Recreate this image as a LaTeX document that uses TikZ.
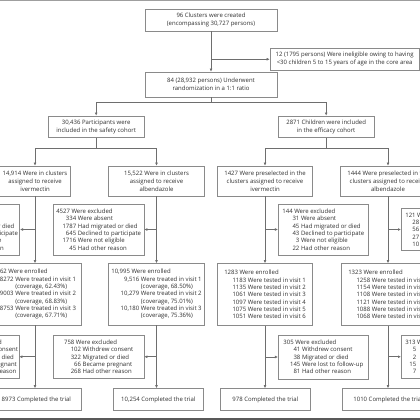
\documentclass[tikz,border=0pt]{standalone}
\usepackage{fontspec}
\setmainfont{Open Sans}
\usetikzlibrary{arrows.meta}
\definecolor{boxc}{HTML}{8A8A8A}
\definecolor{linec}{HTML}{6E6E6E}
\definecolor{txtc}{HTML}{303030}
\newcommand\numrow[3][20pt]{\makebox[#1][r]{#2}\hspace{1.6pt}#3}
\tikzset{
  bx/.style={draw=boxc, line width=0.7pt, text=txtc, inner ysep=0pt, inner xsep=2pt,
    font=\fontsize{6}{8.2}\selectfont, align=center},
  lbx/.style={bx, font=\fontsize{6}{7.3}\selectfont, align=left},
  conn/.style={draw=linec, line width=0.7pt},
  arr/.style={conn, -{Latex[length=3pt,width=2.8pt]}},
}
\begin{document}
\begin{tikzpicture}[x=1pt,y=-1pt]
\useasboundingbox (0,0) rectangle (420,420);
\fill[white] (0,0) rectangle (420,420);
\clip (0,0) rectangle (420,420);
\draw[line width=1.5pt, draw=gray!75] (0,0.75) -- (420,0.75);
\draw[line width=2pt, draw=black!65] (0,419) -- (420,419);

% top
\node[bx, minimum width=132pt, minimum height=22pt] (b1) at (211,20) {96 Clusters were created\\(encompassing 30,727 persons)};
\node[bx, minimum width=149.3pt, minimum height=22.5pt] (inel) at (344.65,59.25) {12 (1795 persons) Were ineligible owing to having\\<30 children 5 to 15 years of age in the core area};
\node[bx, minimum width=132pt, minimum height=25pt] (b2) at (211,84.5) {84 (28,932 persons) Underwent\\randomization in a 1:1 ratio};
\node[bx, minimum width=95.7pt, minimum height=21.5pt] (safety) at (96.15,126.75) {30,436 Participants were\\included in the safety cohort};
\node[bx, minimum width=95.7pt, minimum height=21.5pt] (eff) at (326.15,126.75) {2871 Children were included\\in the efficacy cohort};

% arms
\node[bx, minimum width=71pt, minimum height=30pt] (ivS) at (35,181) {14,914 Were in clusters\\assigned to receive\\ivermectin};
\node[bx, minimum width=96pt, minimum height=30pt] (albS) at (156.5,181) {15,522 Were in clusters\\assigned to receive\\albendazole};
\node[bx, minimum width=95pt, minimum height=30pt] (ivE) at (265,181) {1427 Were preselected in the\\clusters assigned to receive\\ivermectin};
\node[bx, minimum width=95pt, minimum height=30pt] (alE) at (388,181) {1444 Were preselected in the\\clusters assigned to receive\\albendazole};

% first exclusions
\node[lbx, anchor=east, inner xsep=1.7pt, minimum height=51pt] (exS1) at (20,229.5) {\phantom{0000} Were excluded\\ \numrow{\phantom{000}}{Were absent}\\ \numrow{}{Had migrated or died}\\ \numrow{}{Declined to participate}\\ \numrow{}{Were not eligible}\\ \numrow{}{Had other reason}};
\node[lbx, minimum width=90.7pt, minimum height=51pt] (exS2) at (98.65,229.5) {4527 Were excluded\\ \numrow{334}{Were absent}\\ \numrow{1787}{Had migrated or died}\\ \numrow{645}{Declined to participate}\\ \numrow{1716}{Were not eligible}\\ \numrow{45}{Had other reason}};
\node[lbx, minimum width=90pt, minimum height=51pt] (exE1) at (323.3,229.5) {144 Were excluded\\ \numrow[17pt]{31}{Were absent}\\ \numrow[17pt]{45}{Had migrated or died}\\ \numrow[17pt]{43}{Declined to participate}\\ \numrow[17pt]{3}{Were not eligible}\\ \numrow[17pt]{22}{Had other reason}};
\node[lbx, anchor=west, inner xsep=4pt, minimum height=42pt] (exE2) at (401,229.5) {121 Were excluded\\ \numrow[14pt]{28}{}\\ \numrow[14pt]{56}{}\\ \numrow[14pt]{27}{}\\ \numrow[14pt]{10}{}};

% enrolled
\node[lbx, anchor=east, inner xsep=5.4pt, minimum height=61.5pt] (enS1) at (81.7,294.25) {\phantom{00,0}62 Were enrolled\\ \numrow[25.4pt]{8272}{Were treated in visit 1}\\ \numrow[25.4pt]{}{(coverage, 62.43\%)}\\ \numrow[25.4pt]{9003}{Were treated in visit 2}\\ \numrow[25.4pt]{}{(coverage, 68.83\%)}\\ \numrow[25.4pt]{8753}{Were treated in visit 3}\\ \numrow[25.4pt]{}{(coverage, 67.71\%)}};
\node[lbx, minimum width=95.4pt, minimum height=61.5pt] (enS2) at (156.5,294.25) {10,995 Were enrolled\\ \numrow[28pt]{9,516}{Were treated in visit 1}\\ \numrow[28pt]{}{(coverage, 68.50\%)}\\ \numrow[28pt]{10,279}{Were treated in visit 2}\\ \numrow[28pt]{}{(coverage, 75.01\%)}\\ \numrow[28pt]{10,180}{Were treated in visit 3}\\ \numrow[28pt]{}{(coverage, 75.36\%)}};
\node[lbx, minimum width=94.6pt, minimum height=62pt] (enE1) at (265,294.5) {1283 Were enrolled\\ \numrow[22pt]{1183}{Were tested in visit 1}\\ \numrow[22pt]{1135}{Were tested in visit 2}\\ \numrow[22pt]{1061}{Were tested in visit 3}\\ \numrow[22pt]{1097}{Were tested in visit 4}\\ \numrow[22pt]{1075}{Were tested in visit 5}\\ \numrow[22pt]{1051}{Were tested in visit 6}};
\node[lbx, minimum width=94.6pt, minimum height=62pt] (enE2) at (389,294.5) {1323 Were enrolled\\ \numrow[22pt]{1258}{Were tested in visit 1}\\ \numrow[22pt]{1154}{Were tested in visit 2}\\ \numrow[22pt]{1108}{Were tested in visit 3}\\ \numrow[22pt]{1121}{Were tested in visit 4}\\ \numrow[22pt]{1088}{Were tested in visit 5}\\ \numrow[22pt]{1068}{Were tested in visit 6}};

% second exclusions
\node[lbx, anchor=east, inner xsep=1pt, minimum height=43.5pt] (ex2S1) at (19.3,356.75) {\phantom{000} Were excluded\\ \numrow[17pt]{\phantom{000}}{Withdrew consent}\\ \numrow[17pt]{}{Migrated or died}\\ \numrow[17pt]{}{Became pregnant}\\ \numrow[17pt]{}{Had other reason}};
\node[lbx, minimum width=90.7pt, minimum height=43.5pt] (ex2S2) at (98.65,356.75) {758 Were excluded\\ \numrow[17pt]{102}{Withdrew consent}\\ \numrow[17pt]{322}{Migrated or died}\\ \numrow[17pt]{66}{Became pregnant}\\ \numrow[17pt]{268}{Had other reason}};
\node[lbx, minimum width=90pt, minimum height=44pt] (ex2E1) at (323.3,357) {305 Were excluded\\ \numrow[17pt]{41}{Withdrew consent}\\ \numrow[17pt]{38}{Migrated or died}\\ \numrow[17pt]{145}{Were lost to follow-up}\\ \numrow[17pt]{81}{Had other reason}};
\node[lbx, anchor=west, inner xsep=4pt, minimum height=43.5pt] (ex2E2) at (401,356.75) {313 Were excluded\\ \numrow[11pt]{5}{}\\ \numrow[11pt]{2}{}\\ \numrow[11pt]{15}{}\\ \numrow[11pt]{7}{}};

% completed
\node[bx, minimum width=90.7pt, minimum height=22pt] (cS1) at (36.35,399.5) {8973 Completed the trial};
\node[bx, minimum width=90pt, minimum height=22pt] (cS2) at (158.3,399.5) {10,254 Completed the trial};
\node[bx, minimum width=90.7pt, minimum height=22pt] (cE1) at (265.35,399.5) {978 Completed the trial};
\node[bx, minimum width=90.7pt, minimum height=22pt] (cE2) at (388.05,399.5) {1010 Completed the trial};

% connectors
\coordinate (j1) at (211,102);
\coordinate (j2) at (96.15,148.3);
\coordinate (j3) at (326.15,148.3);
\draw[arr] (b1.south) -- (b2.north);
\draw[arr] (b1.south |- inel.west) -- (inel.west);
\draw[conn] (b2.south) -- (j1);
\draw[arr] (j1) -| (safety.north);
\draw[arr] (j1) -| (eff.north);
\draw[conn] (safety.south) -- (j2);
\draw[arr] (j2) -| (ivS.north);
\draw[arr] (j2) -| (albS.north);
\draw[conn] (eff.south) -- (j3);
\draw[arr] (j3) -| (ivE.north);
\draw[arr] (j3) -| (alE.north);

\draw[arr] (ivS.south) -- (ivS.south |- enS1.north);
\draw[arr] (ivS.south |- exS1.east) -- (exS1.east);
\draw[arr] (ivS.south |- enS1.south) -- (ivS.south |- cS1.north);
\draw[arr] (ivS.south |- ex2S1.east) -- (ex2S1.east);

\draw[arr] (albS.south) -- (albS.south |- enS2.north);
\draw[arr] (albS.south |- exS2.east) -- (exS2.east);
\draw[arr] (albS.south |- enS2.south) -- (albS.south |- cS2.north);
\draw[arr] (albS.south |- ex2S2.east) -- (ex2S2.east);

\draw[arr] (ivE.south) -- (ivE.south |- enE1.north);
\draw[arr] (ivE.south |- exE1.west) -- (exE1.west);
\draw[arr] (ivE.south |- enE1.south) -- (ivE.south |- cE1.north);
\draw[arr] (ivE.south |- ex2E1.west) -- (ex2E1.west);

\draw[arr] (alE.south) -- (alE.south |- enE2.north);
\draw[arr] (alE.south |- exE2.west) -- (exE2.west);
\draw[arr] (alE.south |- enE2.south) -- (alE.south |- cE2.north);
\draw[arr] (alE.south |- ex2E2.west) -- (ex2E2.west);
\end{tikzpicture}
\end{document}
